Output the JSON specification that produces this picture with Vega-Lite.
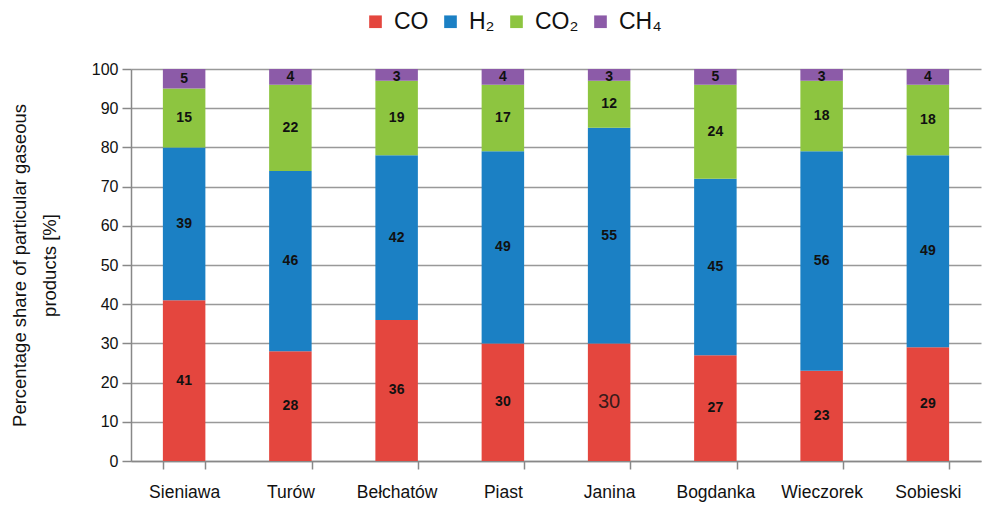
{
  "$schema": "https://vega.github.io/schema/vega-lite/v6.json",
  "width": 850,
  "height": 392,
  "autosize": "none",
  "padding": {"left": 131, "top": 69, "right": 4, "bottom": 44},
  "background": "white",
  "config": {
    "font": "Liberation Sans",
    "view": {"stroke": null},
    "axisY": {
      "titleFontSize": 18.5,
      "titleFontWeight": "normal",
      "titleColor": "#111",
      "titleLineHeight": 30,
      "titlePadding": 32,
      "labelOverlap": false,
      "labelFontSize": 16,
      "labelColor": "#111",
      "labelPadding": 4,
      "tickSize": 9,
      "tickColor": "#888",
      "tickWidth": 1.5,
      "domainColor": "#888",
      "domainWidth": 1.5,
      "gridColor": "#999",
      "gridWidth": 1.5
    }
  },
  "data": {
    "values": [
      {"site": "Sieniawa", "gas": "CO", "order": 1, "value": 41},
      {"site": "Sieniawa", "gas": "H₂", "order": 2, "value": 39},
      {"site": "Sieniawa", "gas": "CO₂", "order": 3, "value": 15},
      {"site": "Sieniawa", "gas": "CH₄", "order": 4, "value": 5},
      {"site": "Turów", "gas": "CO", "order": 1, "value": 28},
      {"site": "Turów", "gas": "H₂", "order": 2, "value": 46},
      {"site": "Turów", "gas": "CO₂", "order": 3, "value": 22},
      {"site": "Turów", "gas": "CH₄", "order": 4, "value": 4},
      {"site": "Bełchatów", "gas": "CO", "order": 1, "value": 36},
      {"site": "Bełchatów", "gas": "H₂", "order": 2, "value": 42},
      {"site": "Bełchatów", "gas": "CO₂", "order": 3, "value": 19},
      {"site": "Bełchatów", "gas": "CH₄", "order": 4, "value": 3},
      {"site": "Piast", "gas": "CO", "order": 1, "value": 30},
      {"site": "Piast", "gas": "H₂", "order": 2, "value": 49},
      {"site": "Piast", "gas": "CO₂", "order": 3, "value": 17},
      {"site": "Piast", "gas": "CH₄", "order": 4, "value": 4},
      {"site": "Janina", "gas": "CO", "order": 1, "value": 30},
      {"site": "Janina", "gas": "H₂", "order": 2, "value": 55},
      {"site": "Janina", "gas": "CO₂", "order": 3, "value": 12},
      {"site": "Janina", "gas": "CH₄", "order": 4, "value": 3},
      {"site": "Bogdanka", "gas": "CO", "order": 1, "value": 27},
      {"site": "Bogdanka", "gas": "H₂", "order": 2, "value": 45},
      {"site": "Bogdanka", "gas": "CO₂", "order": 3, "value": 24},
      {"site": "Bogdanka", "gas": "CH₄", "order": 4, "value": 5},
      {"site": "Wieczorek", "gas": "CO", "order": 1, "value": 23},
      {"site": "Wieczorek", "gas": "H₂", "order": 2, "value": 56},
      {"site": "Wieczorek", "gas": "CO₂", "order": 3, "value": 18},
      {"site": "Wieczorek", "gas": "CH₄", "order": 4, "value": 3},
      {"site": "Sobieski", "gas": "CO", "order": 1, "value": 29},
      {"site": "Sobieski", "gas": "H₂", "order": 2, "value": 49},
      {"site": "Sobieski", "gas": "CO₂", "order": 3, "value": 18},
      {"site": "Sobieski", "gas": "CH₄", "order": 4, "value": 4}
    ]
  },
  "transform": [
    {"window": [{"op": "sum", "field": "value", "as": "cum"}], "groupby": ["site"], "sort": [{"field": "order"}]},
    {"calculate": "min(datum.cum - datum.value / 2, 98)", "as": "mid"},
    {"calculate": "datum.cum - datum.value", "as": "lo"},
    {"calculate": "min(datum.cum, 100)", "as": "hi"}
  ],
  "encoding": {
    "x": {
      "field": "site",
      "type": "nominal",
      "sort": ["Sieniawa", "Turów", "Bełchatów", "Piast", "Janina", "Bogdanka", "Wieczorek", "Sobieski"],
      "scale": {"paddingInner": 0.6, "paddingOuter": 0.3},
      "axis": {
        "title": null,
        "labelAngle": 0,
        "labelFontSize": 17.5,
        "labelColor": "#111",
        "labelPadding": 14,
        "tickBand": "extent",
        "tickSize": 8,
        "tickColor": "#888",
        "domainColor": "#888",
        "domainWidth": 1.5,
        "tickWidth": 1.5,
        "grid": false
      }
    }
  },
  "layer": [
    {
      "mark": {"type": "bar"},
      "encoding": {
        "y": {
          "field": "lo",
          "type": "quantitative",
          "scale": {"domain": [0, 100], "nice": false},
          "axis": {"values": [0, 10, 20, 30, 40, 50, 60, 70, 80, 90, 100], "title": ["Percentage share of particular gaseous", "products [%]"]}
        },
        "y2": {"field": "hi"},
        "color": {
          "field": "gas",
          "type": "nominal",
          "scale": {
            "domain": ["CO", "H₂", "CO₂", "CH₄"],
            "range": ["#e4463e", "#1b80c4", "#8dc540", "#8c5ba8"]
          },
          "legend": {
            "title": null,
            "orient": "none",
            "direction": "horizontal",
            "legendX": 233,
            "legendY": -59,
            "symbolType": "square",
            "symbolSize": 160,
            "symbolStrokeWidth": 0,
            "labelFontSize": 23,
            "labelColor": "#111",
            "columnPadding": 10,
            "labelOffset": 7
          }
        }
      }
    },
    {
      "transform": [{"filter": "!(datum.site == 'Janina' && datum.gas == 'CO')"}],
      "mark": {"type": "text", "fontSize": 14, "fontWeight": "bold", "color": "#111", "baseline": "middle"},
      "encoding": {
        "y": {"field": "mid", "type": "quantitative", "axis": {"values": [0, 10, 20, 30, 40, 50, 60, 70, 80, 90, 100], "title": ["Percentage share of particular gaseous", "products [%]"]}},
        "text": {"field": "value", "type": "quantitative"}
      }
    },
    {
      "transform": [{"filter": "datum.site == 'Janina' && datum.gas == 'CO'"}],
      "mark": {"type": "text", "fontSize": 20, "fontWeight": "normal", "color": "#3a1a1a", "baseline": "middle"},
      "encoding": {
        "y": {"field": "mid", "type": "quantitative", "axis": {"values": [0, 10, 20, 30, 40, 50, 60, 70, 80, 90, 100], "title": ["Percentage share of particular gaseous", "products [%]"]}},
        "text": {"field": "value", "type": "quantitative"}
      }
    }
  ]
}
